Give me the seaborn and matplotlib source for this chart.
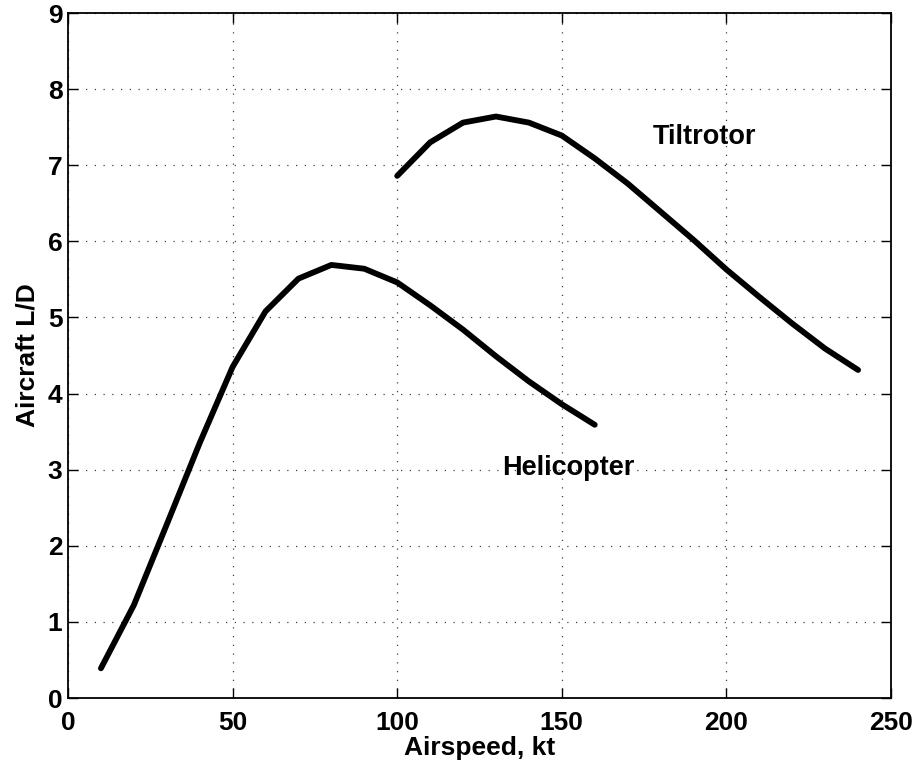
import matplotlib
matplotlib.use("Agg")
import matplotlib.pyplot as plt
import seaborn as sns
import pandas as pd

# Data
heli_speed = [10, 20, 30, 40, 50, 60, 70, 80, 90, 100, 110, 120, 130, 140, 150, 160]
heli_ld = [0.39, 1.22, 2.28, 3.35, 4.35, 5.08, 5.51, 5.69, 5.64, 5.46, 5.16, 4.84, 4.49, 4.16, 3.86, 3.59]
tilt_speed = [100, 110, 120, 130, 140, 150, 160, 170, 180, 190, 200, 210, 220, 230, 240]
tilt_ld = [6.86, 7.30, 7.56, 7.64, 7.56, 7.39, 7.09, 6.76, 6.39, 6.02, 5.63, 5.27, 4.92, 4.59, 4.31]
x_ticks = [0, 50, 100, 150, 200, 250]
y_ticks = [0, 1, 2, 3, 4, 5, 6, 7, 8, 9]

df = pd.concat([
    pd.DataFrame({"speed": heli_speed, "ld": heli_ld, "aircraft": "Helicopter"}),
    pd.DataFrame({"speed": tilt_speed, "ld": tilt_ld, "aircraft": "Tiltrotor"}),
])

sns.set_style("ticks")
plt.rcParams["font.family"] = ["Liberation Sans", "DejaVu Sans"]
plt.rcParams["font.weight"] = "bold"
plt.rcParams["text.color"] = "black"
plt.rcParams["axes.labelcolor"] = "black"

fig = plt.figure(figsize=(9.17, 7.67), dpi=100)
ax = fig.add_axes([68 / 917, (767 - 698) / 767, 823 / 917, 685 / 767])

sns.lineplot(data=df, x="speed", y="ld", units="aircraft", estimator=None,
             color="black", linewidth=4.2, ax=ax, legend=False, sort=False)

ax.set_xlim(0, 250)
ax.set_ylim(0, 9)
ax.set_xticks(x_ticks)
ax.set_yticks(y_ticks)
ax.set_xticklabels([str(v) for v in x_ticks], fontsize=19, fontweight="bold")
ax.set_yticklabels([str(v) for v in y_ticks], fontsize=19, fontweight="bold")
ax.tick_params(direction="in", length=7, width=1.0, top=True, right=True,
               colors="black", labelcolor="black")
ax.tick_params(axis="x", pad=9)
ax.tick_params(axis="y", pad=4)
ax.grid(True, color="0.25", linestyle=(0, (1, 6)), linewidth=0.9)
for s in ax.spines.values():
    s.set_visible(True)
    s.set_linewidth(1.3)
    s.set_color("black")

ax.set_xlabel("Airspeed, kt", fontsize=19, fontweight="bold", labelpad=1, color="black")
ax.set_ylabel("Aircraft L/D", fontsize=19, fontweight="bold", labelpad=6, color="black")

ax.text(132, 3.02, "Helicopter", fontsize=19.5, fontweight="bold", ha="left", va="center", color="black")
ax.text(177.5, 7.37, "Tiltrotor", fontsize=19.5, fontweight="bold", ha="left", va="center", color="black")

fig.savefig("out.png", dpi=100)
